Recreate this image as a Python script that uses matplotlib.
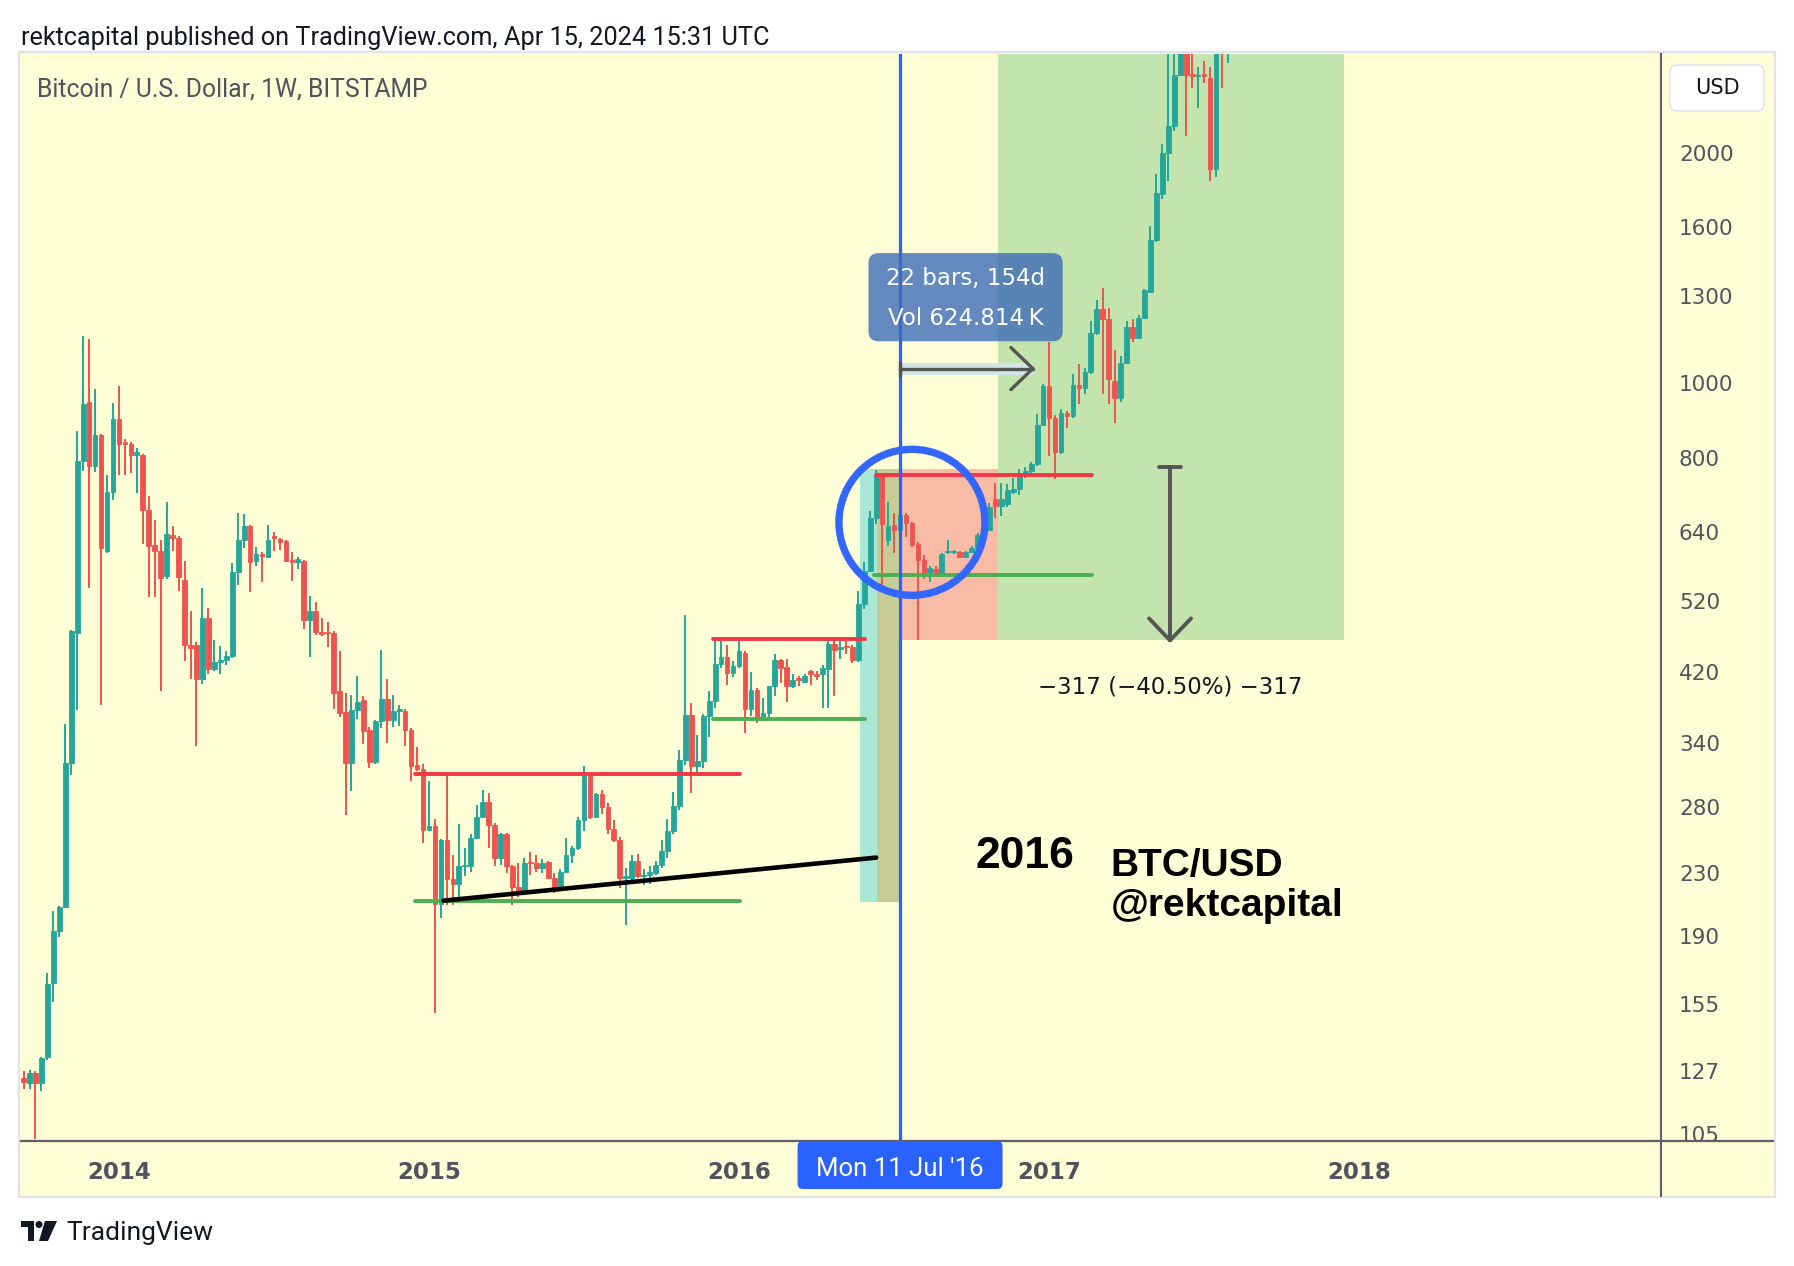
import numpy as np
import pandas as pd
import matplotlib
matplotlib.use("Agg")
import matplotlib.pyplot as plt
import matplotlib.dates as mdates
from matplotlib.patches import Rectangle, FancyBboxPatch, Ellipse, Polygon
from matplotlib.lines import Line2D
from matplotlib.ticker import NullLocator

W, H, DPI = 1794, 1266, 100

# ---------------- data (weekly BTC/USD, Bitstamp) ----------------
first_week = "2013-09-16"
opens = [
    125, 123, 127, 123, 133, 166, 194, 209, 322, 476, 797, 951, 786, 862, 609, 727,
    904, 845, 840, 812, 812, 688, 620, 609, 564, 638, 633, 558, 459, 459, 414, 498, 427, 436, 439, 444,
    571, 629, 655, 590, 603, 598, 636, 630, 627, 592, 589, 590, 495, 508, 477, 477, 475, 399, 375, 322,
    377, 389, 355, 323, 365, 390, 366, 376, 376, 355, 320, 316,
    263, 266, 211, 255, 227, 224, 236, 236, 257, 274, 286, 267, 242, 260, 236, 222, 219, 239, 238, 235,
    239, 228, 222, 232, 244, 249, 271, 310, 274, 293, 282, 264, 255, 228, 228, 240, 229, 230, 231, 237,
    247, 262, 283, 325, 372, 319, 324, 371, 388, 433, 443, 422,
    431, 448, 378, 401, 367, 374, 405, 438, 429, 405, 415, 410, 424, 420, 420, 427, 460, 453, 457, 456,
    438, 518, 573, 671, 762, 628, 657, 648, 677, 661, 622, 592, 568, 577, 570, 607, 606, 607, 598, 607,
    613, 638, 648, 711, 697, 701, 726, 732, 768, 773, 789, 888,
    998, 907, 818, 920, 911, 1001, 991, 1040, 1171, 1260, 1220, 1013, 964, 1071, 1193, 1153, 1225, 1326,
    1550, 1778, 2013, 2180, 2539, 2950, 2550, 2530, 2550, 2520, 1916, 2760, 2750,
]
highs = [
    127.6, 128, 127.5, 133, 171, 206, 209.5, 362, 480, 872, 1160, 1150, 988, 864, 764, 950,
    998, 851, 845, 829, 815, 718, 667, 629, 704, 655, 636, 590, 508, 463, 545, 512, 465, 457, 451, 586,
    681, 679, 658, 615, 606, 658, 644, 633, 628, 607, 598, 592, 532, 522, 498, 491, 479, 451, 397, 395,
    418, 394, 358, 366, 452, 414, 395, 383, 378, 357, 338, 321,
    305, 272, 256, 311, 244, 268, 249, 260, 284, 297, 294, 269, 261, 261, 237, 238, 242, 246, 244, 241,
    240, 231, 234, 257, 251, 274, 319, 312, 294, 297, 285, 271, 258, 235, 244, 245, 234, 236, 240, 255,
    272, 295, 335, 502, 385, 350, 373, 399, 466, 466, 458, 437,
    464, 451, 423, 403, 391, 406, 447, 440, 440, 421, 418, 420, 426, 424, 432, 467, 465, 465, 464, 458,
    539, 589, 685, 776, 765, 705, 681, 685, 681, 664, 624, 601, 582, 582, 604, 629, 610, 608, 608, 617,
    642, 655, 702, 745, 745, 743, 758, 778, 782, 794, 918, 1003,
    1140, 915, 932, 927, 1035, 1066, 1053, 1212, 1292, 1341, 1262, 1112, 1093, 1212, 1220, 1235, 1335, 1616,
    1887, 2067, 2707, 2800, 2980, 2980, 2750, 2600, 2650, 2600, 2900, 2820, 3300,
]
lows = [
    121, 121, 104, 120, 132, 157, 191, 208, 310, 377, 773, 545, 770, 383, 605, 708,
    765, 765, 768, 723, 621, 529, 529, 400, 560, 609, 540, 437, 414, 339, 408, 420, 424, 420, 432, 441,
    550, 614, 538, 582, 555, 597, 608, 610, 588, 556, 577, 481, 442, 473, 471, 456, 378, 369, 275, 296,
    367, 341, 317, 321, 357, 342, 358, 360, 339, 305, 314, 253,
    262, 152, 202, 210, 210, 215, 229, 232, 256, 273, 249, 236, 237, 231, 210, 215, 218, 230, 232, 231,
    227, 218, 221, 231, 238, 248, 262, 272, 273, 276, 260, 254, 221, 198, 224, 228, 223, 224, 230, 235,
    242, 260, 279, 320, 294, 311, 317, 348, 380, 428, 407, 417,
    428, 352, 371, 363, 366, 369, 393, 409, 387, 403, 405, 409, 407, 413, 380, 380, 393, 440, 447, 435,
    436, 511, 571, 659, 541, 617, 605, 637, 634, 615, 465, 560, 555, 568, 569, 603, 603, 595, 595, 604,
    610, 635, 645, 671, 675, 695, 722, 720, 758, 765, 785, 886,
    810, 755, 814, 880, 907, 946, 974, 1035, 1165, 974, 946, 893, 951, 1069, 1139, 1151, 1223, 1320,
    1540, 1750, 1850, 2150, 2530, 2115, 2440, 2300, 2480, 1850, 1870, 2440, 2630,
]
closes = [
    123.4, 127, 123, 132.6, 165.6, 194, 209, 322, 478, 797, 947, 785, 862, 614, 727, 904,
    840, 840, 811, 818, 688, 618, 609, 561, 640, 633, 563, 459, 455, 414, 498, 427, 436, 439, 444, 571,
    629, 655, 589, 603, 600, 629, 632, 625, 590, 589, 594, 494, 508, 477, 474, 475, 397, 374, 322, 377,
    387, 354, 323, 365, 390, 366, 376, 378, 355, 319, 316, 263,
    266, 211, 255, 227, 224, 236, 237, 257, 274, 286, 267, 242, 260, 236, 222, 219, 238, 238, 235, 238,
    228, 222, 232, 244, 249, 271, 310, 274, 293, 282, 264, 255, 228, 229, 240, 229, 230, 232, 237, 247,
    262, 283, 325, 372, 319, 324, 371, 388, 433, 443, 422, 431,
    450, 378, 401, 367, 374, 405, 438, 428, 405, 413, 413, 418, 420, 418, 428, 460, 452, 456, 456, 438,
    518, 573, 671, 762, 659, 655, 648, 677, 661, 619, 592, 568, 578, 571, 603, 609, 608, 598, 607, 613,
    638, 648, 694, 697, 711, 730, 732, 768, 773, 789, 888, 998,
    907, 818, 920, 911, 1001, 991, 1040, 1171, 1260, 1220, 1019, 964, 1071, 1193, 1153, 1225, 1331, 1550,
    1782, 2013, 2180, 2539, 2950, 2540, 2530, 2540, 2530, 1916, 2750, 2745, 3250,
]

price_ticks = [2000, 1600, 1300, 1000, 800, 640, 520, 420, 340, 280, 230, 190, 155, 127, 105]
year_tick_dates = ["2014-01-06", "2015-01-05", "2016-01-04", "2017-01-02", "2018-01-01"]
year_tick_labels = ["2014", "2015", "2016", "2017", "2018"]

# drawings (date, price) of the analyst
res1 = (["2014-12-19", "2016-01-05"], 311.5)
sup1 = (["2014-12-19", "2016-01-05"], 212.3)
trend = (["2015-01-22", "2016-06-13"], [212.8, 242.2])
res2 = (["2015-12-05", "2016-05-31"], 467)
sup2 = (["2015-12-05", "2016-05-31"], 367.5)
res3 = (["2016-06-13", "2017-02-21"], 764)
sup3 = (["2016-06-10", "2017-02-21"], 566)
marker_date = "2016-07-11"

# ---------------- style ----------------
BG = "#FEFED7"
UP = "#26A69A"
DN = "#EF5350"
RED_L = "#F23645"
GRN_L = "#4CAF50"
TXT = "#131722"
GREY = "#50535E"

def d(s):
    return mdates.date2num(pd.Timestamp(s))

fig = plt.figure(figsize=(W / DPI, H / DPI), dpi=DPI, facecolor="white")

def fr(px, py):
    return px / W, 1 - py / H

# widget frame
x0, y0 = fr(19, 1197)
fig.add_artist(Rectangle((x0, y0), (1775 - 19) / W, (1197 - 52) / H, transform=fig.transFigure,
                         facecolor=BG, edgecolor="#E2E3E7", lw=1.6, zorder=0))

ax = fig.add_axes([21 / W, 1 - 1141 / H, (1661 - 21) / W, (1141 - 54) / H])
ax.set_facecolor(BG)
ax.set_yscale("log")
ax.set_ylim(103.4, 2706)
xl = pd.Timestamp("2014-01-06") - pd.Timedelta(days=115.0)
ax.set_xlim(mdates.date2num(xl), mdates.date2num(xl) + 1925.4)
for s in ax.spines.values():
    s.set_visible(False)
ax.tick_params(axis="y", which="both", left=False, right=False, labelleft=False)
ax.yaxis.set_minor_locator(NullLocator())
ax.set_xticks([d(t) for t in year_tick_dates])
ax.set_xticklabels(year_tick_labels)
ax.xaxis.set_minor_locator(NullLocator())
ax.tick_params(axis="x", length=0, pad=14.5, labelsize=16.5, labelcolor=GREY)
for t in ax.get_xticklabels():
    t.set_fontweight("bold")
    t.set_family("DejaVu Sans")

# candles
dates = pd.date_range(first_week, periods=len(opens), freq="7D")
xs = mdates.date2num(dates)
o = np.array(opens, float); h = np.array(highs, float)
l = np.array(lows, float); c = np.array(closes, float)
cols = np.where(c >= o, UP, DN)

# background drawings
ax.add_patch(Rectangle((d("2016-05-25"), 212), d("2016-06-14") - d("2016-05-25"), 777 - 212,
                       facecolor="#A9E7D7", edgecolor="none", zorder=1))
ax.add_patch(Rectangle((d("2016-06-14"), 212), d("2016-07-11") - d("2016-06-14"), 777 - 212,
                       facecolor="#C6CC93", edgecolor="none", zorder=1))
ax.add_patch(Rectangle((d("2016-07-11"), 465), d("2016-11-03") - d("2016-07-11"), 777 - 465,
                       facecolor="#F8BBA6", edgecolor="none", zorder=1))
ax.add_patch(Rectangle((d("2016-11-03"), 465), d("2017-12-14") - d("2016-11-03"), 6000 - 465,
                       facecolor="#C4E4AE", edgecolor="none", zorder=1))

ax.vlines(xs, l, h, colors=cols, lw=1.4, zorder=3)
ax.bar(xs, np.abs(c - o), bottom=np.minimum(o, c), width=5.5, color=cols, edgecolor=cols,
       lw=0.6, zorder=3.1, align="center")

# horizontal levels
for (dd, p), col in [(res1, RED_L), (sup1, GRN_L), (res2, RED_L), (sup2, GRN_L),
                     (res3, RED_L), (sup3, GRN_L)]:
    ax.plot([d(dd[0]), d(dd[1])], [p, p], color=col, lw=2.8, solid_capstyle="round", zorder=4)
ax.plot([d(trend[0][0]), d(trend[0][1])], trend[1], color="black", lw=3.3,
        solid_capstyle="round", zorder=4)

def to_fig(xv, yv):
    disp = ax.transData.transform((xv, yv))
    return fig.transFigure.inverted().transform(disp)

def shift(xv, yv, dxp, dyp):
    disp = ax.transData.transform((xv, yv)) + np.array([dxp, dyp])
    return ax.transData.inverted().transform(disp)

# blue vertical marker
ax.axvline(d(marker_date), color="#2962FF", lw=2.3, zorder=5)

# blue circle
cfx, cfy = to_fig(d("2016-07-25"), 663)
ax.add_patch(Ellipse((cfx, cfy), 2 * 73 / W, 2 * 73 / H, transform=fig.transFigure,
                     fill=False, edgecolor="#3366FF", lw=5.3, zorder=5))

# date-range arrow
ARR = "#555555"
xa0, xa1, pa = d(marker_date), d("2016-12-14"), 1052
ax.add_patch(Rectangle((xa0, 1033), xa1 - xa0, 1071 - 1033, facecolor="#D2E6E6",
                       edgecolor="none", zorder=4))
ax.plot([xa0, xa1], [pa, pa], color=ARR, lw=2.4, zorder=5, solid_capstyle="round")
a1 = shift(xa1, pa, -22, 21); a2 = shift(xa1, pa, -22, -21)
ax.plot([a1[0], xa1, a2[0]], [a1[1], pa, a2[1]], color=ARR, lw=2.4, zorder=5,
        solid_capstyle="round", solid_joinstyle="round")
s1 = shift(xa0, pa, 0, 6); s2 = shift(xa0, pa, 0, -6)
ax.plot([s1[0], s2[0]], [s1[1], s2[1]], color=ARR, lw=2.4, zorder=5)

# range label box
bx0, by0 = to_fig(d("2016-06-04"), 1142)
bx1, by1 = to_fig(d("2017-01-18"), 1488)
fig.add_artist(FancyBboxPatch((bx0, by0), bx1 - bx0, by1 - by0,
                              boxstyle="round,pad=0,rounding_size=0.0055",
                              mutation_aspect=W / H, transform=fig.transFigure,
                              facecolor="#3C6CB8", alpha=0.8, edgecolor="none", zorder=6))
bcx = (bx0 + bx1) / 2
fig.text(bcx, by1 - 0.285 * (by1 - by0), "22 bars, 154d", ha="center", va="center",
         fontsize=16.5, color="white", family="DejaVu Sans", zorder=7)
fig.text(bcx, by1 - 0.74 * (by1 - by0), "Vol 624.814\u2009K", ha="center", va="center",
         fontsize=16.5, color="white", family="DejaVu Sans", zorder=7)

# measurement arrow (vertical)
xm = d("2017-05-24")
ax.plot([xm, xm], [783, 465], color=ARR, lw=2.8, zorder=5)
t1 = shift(xm, 783, -11, 0); t2 = shift(xm, 783, 11, 0)
ax.plot([t1[0], t2[0]], [783, 783], color=ARR, lw=2.8, zorder=5, solid_capstyle="round")
m1 = shift(xm, 465, -21, 22); m2 = shift(xm, 465, 21, 22)
ax.plot([m1[0], xm, m2[0]], [m1[1], 465, m2[1]], color=ARR, lw=2.8, zorder=5,
        solid_capstyle="round", solid_joinstyle="round")
ax.text(xm, 404.6, "\u2212317 (\u221240.50%) \u2212317", ha="center", va="center", fontsize=16.5,
        color=TXT, family="DejaVu Sans", zorder=6)

# big texts
ax.text(d("2016-12-05"), 243, "2016", ha="center", va="center", fontsize=32,
        fontweight="bold", family="Liberation Sans", color="black", zorder=6)
ax.text(d("2017-03-15"), 236, "BTC/USD", ha="left", va="center", fontsize=28,
        fontweight="bold", family="Liberation Sans", color="black", zorder=6)
ax.text(d("2017-03-15"), 209.3, "@rektcapital", ha="left", va="center", fontsize=28,
        fontweight="bold", family="Liberation Sans", color="black", zorder=6)

# price scale pane
axp = fig.add_axes([1661 / W, 1 - 1141 / H, (1773 - 1661) / W, (1141 - 54) / H])
axp.set_facecolor(BG)
axp.set_yscale("log")
axp.set_ylim(ax.get_ylim())
axp.set_xlim(0, 1)
for s in axp.spines.values():
    s.set_visible(False)
axp.tick_params(which="both", left=False, bottom=False, labelleft=False, labelbottom=False)
axp.yaxis.set_minor_locator(NullLocator())
for p in price_ticks:
    axp.text(0.16, p, f"{p}", ha="left", va="center", fontsize=15.5, color=GREY,
             family="DejaVu Sans", clip_on=True)
ux, uy = fr(1670, 111)
fig.add_artist(FancyBboxPatch((ux, uy), 94 / W, 46 / H, boxstyle="round,pad=0,rounding_size=0.004",
                              mutation_aspect=W / H, transform=fig.transFigure,
                              facecolor="white", edgecolor="#E4E5EA", lw=1.2, zorder=6))
fig.text(*fr(1717, 88), "USD", ha="center", va="center", fontsize=15, color=TXT,
         family="DejaVu Sans", zorder=7)

# separators
fig.add_artist(Line2D([1661 / W, 1661 / W], [1 - 54 / H, 1 - 1196 / H], color="#5D606B", lw=1.5, zorder=5))
fig.add_artist(Line2D([21 / W, 1773 / W], [1 - 1141 / H, 1 - 1141 / H], color="#5D606B", lw=1.6, zorder=5))

# time-axis date label
mx, _ = to_fig(d(marker_date), 500)
lx0, ly0 = mx - 102.5 / W, 1 - 1189 / H
fig.add_artist(FancyBboxPatch((lx0, ly0), 205 / W, 48 / H, boxstyle="round,pad=0,rounding_size=0.003",
                              mutation_aspect=W / H, transform=fig.transFigure,
                              facecolor="#2962FF", edgecolor="none", zorder=6))
fig.text(mx, 1 - 1169 / H, "Mon 11 Jul '16", ha="center", va="center", fontsize=18.5,
         color="white", family="Roboto", zorder=7)

# header and legend
fig.text(*fr(20.6, 37.5), "rektcapital published on TradingView.com, Apr 15, 2024 15:31 UTC",
         ha="left", va="center", fontsize=18.2, color=TXT, family="Roboto")
fig.text(*fr(36.6, 90), "Bitcoin / U.S. Dollar, 1W, BITSTAMP", ha="left", va="center",
         fontsize=17.8, color=GREY, family="Roboto", zorder=7)

# TradingView logo + wordmark
LX, LY = 21, 1221
def lp(px, py):
    return fr(LX + px, LY + py)
fig.add_artist(Polygon([lp(0, 0), lp(13, 0), lp(13, 20), lp(7, 20), lp(7, 6), lp(0, 6)],
                       closed=True, transform=fig.transFigure, facecolor=TXT, edgecolor="none"))
cx, cy = lp(18, 3.5)
fig.add_artist(Ellipse((cx, cy), 7 / W, 7 / H, transform=fig.transFigure, facecolor=TXT, edgecolor="none"))
fig.add_artist(Polygon([lp(24, 0), lp(36, 0), lp(27, 20), lp(18, 20)], closed=True,
                       transform=fig.transFigure, facecolor=TXT, edgecolor="none"))
fig.text(*fr(66, 1233), "TradingView", ha="left", va="center", fontsize=19, color=TXT, family="Roboto")

fig.savefig("out.png", dpi=DPI, facecolor="white")
